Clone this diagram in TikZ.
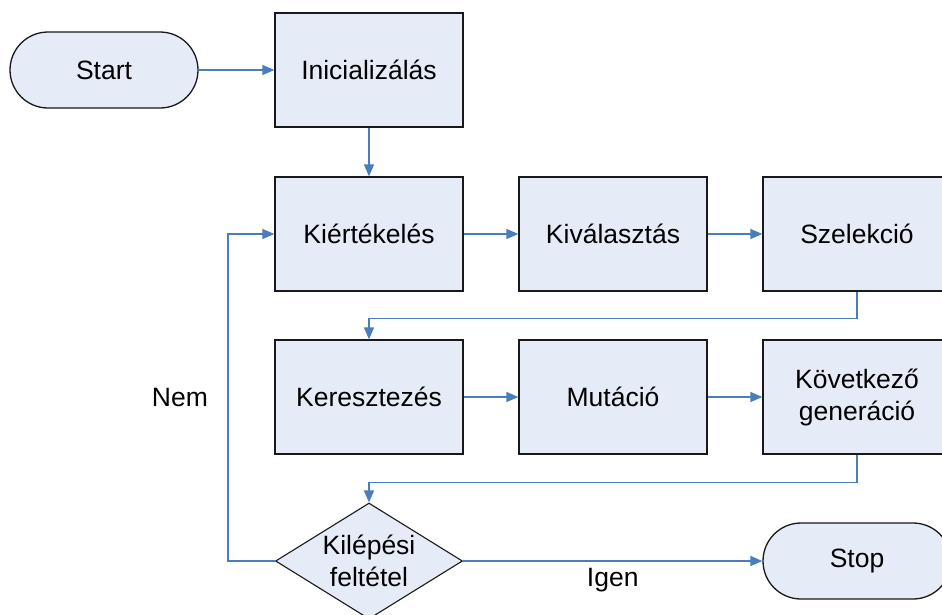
\documentclass[tikz,border=0pt]{standalone}
\usepackage{fontspec}
\setmainfont{Liberation Sans}
\usetikzlibrary{shapes.geometric,arrows.meta}
\definecolor{boxfill}{HTML}{E6ECF7}
\definecolor{linkblue}{HTML}{4A7EBB}
\begin{document}
\begin{tikzpicture}[x=1pt,y=-1pt,
        font=\fontsize{26.5}{32}\selectfont,
        stepbox/.style={draw=black!90,fill=boxfill,line width=1.3pt,minimum width=188pt,minimum height=114pt,align=center},
        terminal/.style={stepbox,minimum height=76pt,rounded corners=38pt},
        decision/.style={draw=black!90,fill=boxfill,line width=1.1pt,diamond,inner sep=0pt,minimum width=187pt,minimum height=116pt},
        link/.style={draw=linkblue,line width=1.4pt,-{Triangle[length=12pt,width=10pt]}}]
        \useasboundingbox (0,0) rectangle (942,614);

        \node[terminal] (start) at (104,70) {Start};
        \node[stepbox] (init) at (369,70) {Inicializálás};

        \node[stepbox] (eval) at (369,234) {Kiértékelés};
        \node[stepbox] (choose) at (613,234) {Kiválasztás};
        \node[stepbox] (select) at (857,234) {Szelekció};

        \node[stepbox] (cross) at (369,397) {Keresztezés};
        \node[stepbox] (mutate) at (613,397) {Mutáció};
        \node[stepbox] (next) at (857,397) {Következő\\generáció};

        \node[decision,label={[align=center]center:Kilépési\\feltétel}] (exit) at (369,561) {};
        \node[terminal] (stop) at (857,561) {Stop};

        \draw[link] (start) -- (init);
        \draw[link] (init) -- (eval);
        \draw[link] (eval) -- (choose);
        \draw[link] (choose) -- (select);
        \draw[link] (select.south) -- ++(0,27) -| (cross.north);
        \draw[link] (cross) -- (mutate);
        \draw[link] (mutate) -- (next);
        \draw[link] (next.south) -- ++(0,28) -| (exit.north);
        \draw[link] (exit.west) -- ++(-47,0) |- (eval.west)
            node[pos=0.25,left=16pt] {Nem};
        \draw[link] (exit.east) -- (stop.west)
            node[midway,below=3pt] {Igen};
\end{tikzpicture}
\end{document}
